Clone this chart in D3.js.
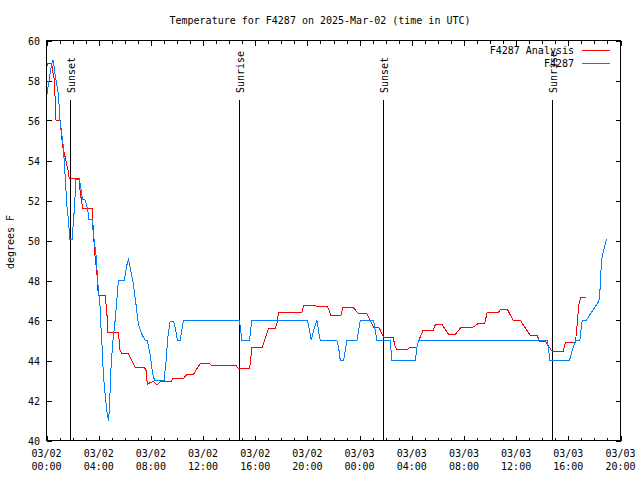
<!DOCTYPE html>
<html>
<head>
<meta charset="utf-8">
<script src="https://cdn.jsdelivr.net/npm/d3@7"></script>
<style>
  body { margin: 0; background: #fff; }
  svg { display: block; }
  text { font-family: "DejaVu Sans Mono", monospace; font-size: 10px; fill: #000; }
</style>
</head>
<body>
<svg id="chart" width="640" height="480"></svg>
<script>
// ---- Data (hours since 2025-03-02 00:00 UTC, degrees F) ----
const analysisHours = [0,0.115,0.40,0.52,0.61,0.69,0.73,1.04,1.24,1.42,1.65,1.75,2.52,2.57,2.70,2.78,3.51,3.59,3.72,3.85,3.97,4.49,4.62,4.70,5.51,5.64,5.77,6.28,6.41,6.79,7.50,7.63,7.73,7.94,8.19,8.50,8.71,9.55,9.68,10.50,10.76,11.26,11.52,11.78,12.54,12.67,14.52,14.67,14.72,15.56,15.67,15.74,16.56,16.63,17.02,17.53,17.66,17.78,19.58,19.70,20.47,21.54,21.67,21.80,22.57,22.72,23.54,23.92,24.57,24.82,25.07,25.51,25.72,25.82,26.56,26.74,26.87,27.64,27.89,28.40,28.53,28.86,29.63,29.81,30.32,30.83,31.34,31.73,32.62,33.05,33.59,33.77,34.59,34.79,35.35,35.77,36.33,37.09,37.61,37.81,38.25,38.76,39.60,39.78,40.55,40.68,40.80,40.93,41.32];
const analysisTemps = [58.7,58.85,58.85,58.3,58.0,56.5,56.0,56.0,54.7,54.2,53.5,53.08,53.08,52.5,51.9,51.6,51.6,50.4,49.2,48.5,47.25,47.25,46.5,45.4,45.4,44.5,44.35,44.35,44.17,43.67,43.67,43.5,42.8,42.9,42.95,42.78,42.93,42.93,43.1,43.1,43.3,43.3,43.58,43.83,43.83,43.75,43.75,43.63,43.58,43.58,44.17,44.67,44.67,44.83,45.6,45.62,45.83,46.4,46.42,46.73,46.73,46.7,46.5,46.27,46.27,46.63,46.63,46.33,46.33,46.0,45.67,45.62,45.33,45.17,45.17,44.67,44.55,44.55,44.67,44.67,45.0,45.5,45.5,45.8,45.8,45.3,45.3,45.63,45.63,45.83,45.83,46.4,46.38,46.53,46.53,46.0,46.0,45.25,45.25,44.95,44.95,44.45,44.45,44.92,44.92,45.83,46.75,47.13,47.13];

const stationHours = [0.02,0.27,0.40,0.52,0.65,0.91,1.04,1.17,1.29,1.42,1.55,1.67,1.75,1.80,1.98,2.06,2.13,2.26,2.52,2.62,2.70,2.76,2.95,3.08,3.21,3.26,3.51,3.59,3.80,3.97,4.10,4.16,4.24,4.36,4.49,4.62,4.74,4.82,4.93,5.08,5.26,5.39,5.51,5.97,6.15,6.28,6.41,6.66,6.92,7.04,7.30,7.56,7.73,7.94,8.07,8.19,8.32,9.01,9.17,9.30,9.48,9.73,9.86,9.99,10.04,10.24,10.37,10.50,14.79,14.98,15.56,15.74,20.01,20.16,20.29,20.47,20.73,20.85,20.98,22.26,22.39,22.52,22.77,22.90,23.03,23.80,23.92,24.05,25.07,25.20,25.33,26.35,26.48,28.27,28.40,28.53,38.38,38.50,38.58,40.09,40.29,40.55,40.88,41.06,41.37,41.70,42.34,42.41,42.47,42.54,42.70,42.93];
const stationTemps = [57.25,58.33,58.83,59.03,58.35,57.33,56,55.33,54.67,53.33,51.83,51.1,50.4,50.03,50.03,51,51.5,53.05,53.05,52.67,52.33,52.03,52.03,51.75,51.33,51.03,51.03,50.33,49.25,47.58,46.75,45.83,45,43.25,42.33,41.5,41.0,41.5,43.5,44.9,46,47,48,48,48.75,49.03,48.67,47.83,46.5,45.83,45.33,45,45,44.33,43.67,43.17,43,43,44,45.17,45.97,45.97,45.67,45.17,45,45,45.5,46,46,45,45,46,46,45.5,45.03,45.5,46,45.5,45,45,44.67,44,44,44.5,45,45,45.5,46,46,45.5,45,45,44,44,44.67,45,45,44.5,44,44,44.5,45,45,46,46,46.33,46.97,47.33,48,49,49.5,50.05];

const sunEventHours = [1.80, 14.77, 25.82, 38.78];
const sunEventLabels = ["Sunset", "Sunrise", "Sunset", "Sunrise"];

const yTicks = [40, 42, 44, 46, 48, 50, 52, 54, 56, 58, 60];
const seriesNames = ["F4287 Analysis", "F4287"];
const seriesColors = ["#ff0000", "#0080ff"];
const titleText = "Temperature for F4287 on 2025-Mar-02 (time in UTC)";
const yLabelText = "degrees F";

// ---- Setup ----
const start = Date.UTC(2025, 2, 2, 0, 0);
const toDate = h => new Date(start + h * 3600e3);
const L = 46.5, R = 620.5, T = 40.5, B = 440.5;

const svg = d3.select("#chart");
const x = d3.scaleUtc().domain([toDate(0), toDate(44)]).range([L, R]);
const y = d3.scaleLinear().domain([40, 60]).range([B, T]);

svg.append("rect").attr("width", 640).attr("height", 480).attr("fill", "#fff");

// Title
svg.append("text").attr("x", 320).attr("y", 24).attr("text-anchor", "middle").text(titleText);

// Y label
svg.append("text").attr("transform", "translate(14,242) rotate(-90)")
  .attr("text-anchor", "middle").text(yLabelText);

// Ticks
const minorTicks = d3.range(0, 45, 1).map(toDate);
const majorTicks = d3.range(0, 45, 4).map(toDate);
const g = svg.append("g").attr("shape-rendering", "crispEdges").attr("stroke", "#000");
minorTicks.forEach(d => {
  const xx = Math.round(x(d)) + 0.5;
  const len = (d.getUTCHours() % 4 === 0) ? 5 : 3;
  g.append("line").attr("x1", xx).attr("x2", xx).attr("y1", B).attr("y2", B - len);
  g.append("line").attr("x1", xx).attr("x2", xx).attr("y1", T).attr("y2", T + len);
});
yTicks.forEach(v => {
  const yy = Math.round(y(v)) + 0.5;
  g.append("line").attr("x1", L).attr("x2", L + 5).attr("y1", yy).attr("y2", yy);
  g.append("line").attr("x1", R - 5).attr("x2", R).attr("y1", yy).attr("y2", yy);
});

// Tick labels
const fmtDate = d3.utcFormat("%m/%d"), fmtTime = d3.utcFormat("%H:%M");
majorTicks.forEach(d => {
  const t = svg.append("text").attr("x", x(d)).attr("y", 457).attr("text-anchor", "middle");
  t.append("tspan").attr("x", x(d)).text(fmtDate(d));
  t.append("tspan").attr("x", x(d)).attr("dy", 13).text(fmtTime(d));
});
yTicks.forEach(v => {
  svg.append("text").attr("x", 40).attr("y", y(v) + 4).attr("text-anchor", "end").text(v);
});

// Sun events
sunEventHours.forEach((h, i) => {
  const xx = Math.round(x(toDate(h))) + 0.5;
  svg.append("line").attr("x1", xx).attr("x2", xx).attr("y1", 100).attr("y2", B)
    .attr("stroke", "#000").attr("shape-rendering", "crispEdges");
  svg.append("text").attr("transform", `translate(${xx + 4},93) rotate(-90)`)
    .attr("text-anchor", "start").text(sunEventLabels[i]);
});

// Series
const line = d3.line().x(d => x(toDate(d[0]))).y(d => y(d[1]));
const series = [
  d3.zip(analysisHours, analysisTemps),
  d3.zip(stationHours, stationTemps)
];
series.forEach((s, i) => {
  svg.append("path").datum(s).attr("d", line).attr("fill", "none")
    .attr("stroke", seriesColors[i]).attr("stroke-width", 1)
    .attr("shape-rendering", "crispEdges");
});

// Legend
seriesNames.forEach((n, i) => {
  const ly = 50.5 + i * 13;
  svg.append("text").attr("x", 574).attr("y", ly + 3.5).attr("text-anchor", "end").text(n);
  svg.append("line").attr("x1", 582).attr("x2", 610).attr("y1", ly).attr("y2", ly)
    .attr("stroke", seriesColors[i]).attr("shape-rendering", "crispEdges");
});

// Frame
svg.append("rect").attr("x", L).attr("y", T).attr("width", R - L).attr("height", B - T)
  .attr("fill", "none").attr("stroke", "#000").attr("shape-rendering", "crispEdges");
</script>
</body>
</html>
